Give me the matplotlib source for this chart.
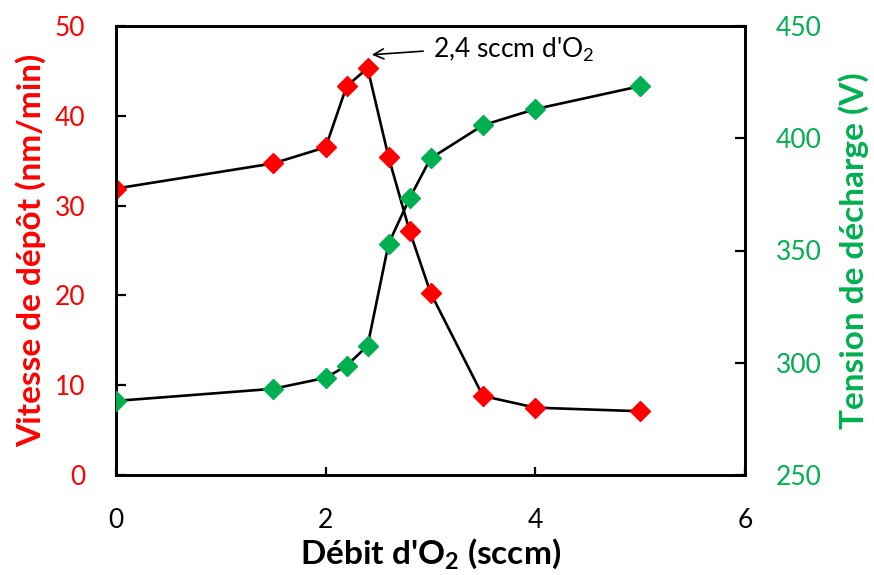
import matplotlib
matplotlib.use("Agg")
import matplotlib.pyplot as plt

plt.rcParams['font.family'] = ['Lato', 'DejaVu Sans']
plt.rcParams['mathtext.fontset'] = 'custom'
plt.rcParams['mathtext.rm'] = 'Lato'
plt.rcParams['mathtext.bf'] = 'Lato:bold'

flow = [0, 1.5, 2, 2.2, 2.4, 2.6, 2.8, 3, 3.5, 4, 5]
rate = [31.9, 34.7, 36.5, 43.3, 45.3, 35.4, 27.2, 20.3, 8.8, 7.5, 7.1]
voltage = [283, 288.4, 293.3, 298.7, 307.6, 353, 373.2, 391, 405.8, 413, 423.2]

x_ticks = [0, 2, 4, 6]
left_ticks = [0, 10, 20, 30, 40, 50]
right_ticks = [250, 300, 350, 400, 450]

RED = '#FF0000'
GREEN = '#00B050'

fig = plt.figure(figsize=(8.74, 5.75), dpi=100)
ax = fig.add_axes([116/874, 100/575, (745-116)/874, (475-26)/575])
ax2 = ax.twinx()

ax.plot(flow, rate, color='black', lw=1.9, marker='D', ms=10,
        mfc=RED, mec=RED, zorder=3)
ax2.plot(flow, voltage, color='black', lw=1.9, marker='D', ms=10,
         mfc=GREEN, mec=GREEN, zorder=3)

ax.set_xlim(0, 6)
ax.set_ylim(0, 50)
ax2.set_ylim(250, 450)
ax.set_xticks(x_ticks)
ax.set_yticks(left_ticks)
ax2.set_yticks(right_ticks)

for a in (ax, ax2):
    for s in a.spines.values():
        s.set_linewidth(1.9)
        s.set_color('black')

ax.tick_params(axis='both', direction='in', length=7, width=1.6, pad=22, labelsize=19)
ax.tick_params(axis='y', labelcolor=RED)
ax.tick_params(axis='x', length=6, pad=24)
ax2.tick_params(axis='y', direction='in', length=7, width=1.6, pad=22,
                labelsize=19, labelcolor=GREEN)

ax.set_xlabel("Débit d'O$_\\mathbf{2}$ (sccm)", fontsize=24, fontweight='bold', labelpad=2)
ax.set_ylabel("Vitesse de dépôt (nm/min)", fontsize=24, fontweight='bold', color=RED, labelpad=6)
ax2.set_ylabel("Tension de décharge (V)", fontsize=24, fontweight='bold', color=GREEN,
               rotation=90, labelpad=12)

ax.annotate("", xy=(2.44, 46.8), xytext=(2.93, 47.2),
            arrowprops=dict(arrowstyle='->', lw=1.2, color='black', shrinkA=0, shrinkB=0,
                            mutation_scale=18))
ax.text(3.02, 47.3, "2,4 sccm d'O$_2$", fontsize=19, ha='left', va='center')

fig.savefig("out.png", dpi=100)
